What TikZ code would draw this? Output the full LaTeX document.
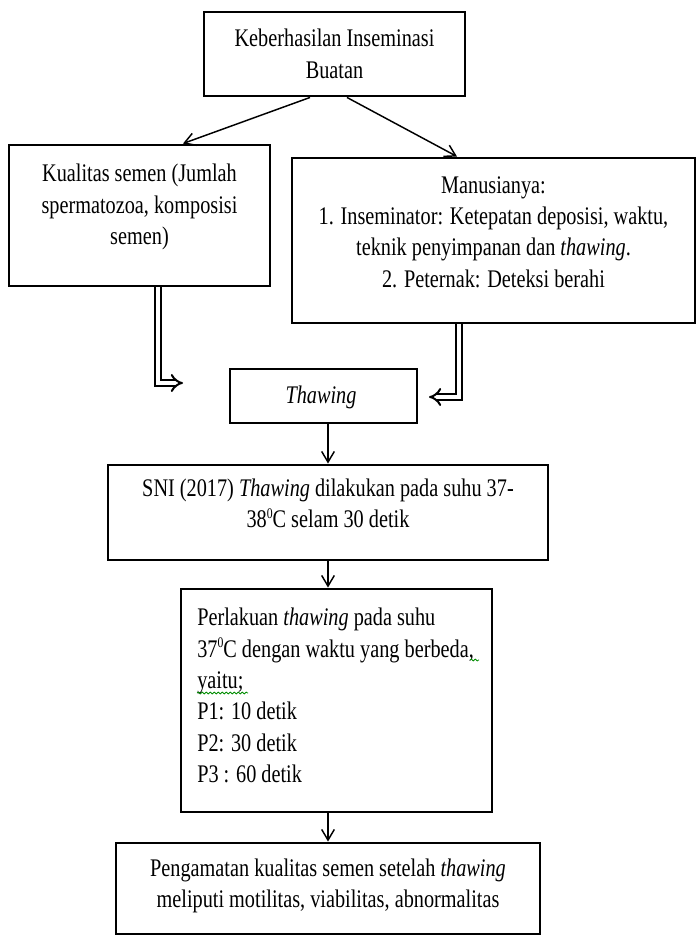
\documentclass[tikz,border=0pt]{standalone}
\usepackage{fontspec}
\setmainfont{Liberation Serif}[FakeStretch=0.8]
\usetikzlibrary{arrows.meta,calc,decorations.pathmorphing}
\newcommand{\supzero}{\raisebox{0.8ex}{\fontsize{11}{11}\selectfont 0}}
\begin{document}
\begin{tikzpicture}[x=0.75pt,y=-0.75pt,
  box/.style={draw, line width=2.2pt, rectangle, inner sep=0pt},
  txt/.style={inner sep=0pt, align=center, font=\fontsize{19}{23.5}\selectfont},
  arr/.style={line width=1.1pt, -{Straight Barb[length=8pt,width=9.5pt]}},
  dbl/.style={draw, line width=1.5pt, double=white, double distance=3pt, -{Implies}},
  squig/.style={draw=green!55!black, line width=0.6pt, decorate, decoration={snake, amplitude=0.7pt, segment length=3pt}}]
\useasboundingbox (0,0) rectangle (696,937);
% boxes
\node[box, minimum width=195.75pt, minimum height=63pt] (top) at (334.5,54) {};
\node[box, minimum width=195.75pt, minimum height=105.75pt] (kual) at (139.5,215.5) {};
\node[box, minimum width=302.25pt, minimum height=123.75pt] (man) at (493.5,240.5) {};
\node[box, line width=1.7pt, minimum width=140.25pt, minimum height=40.5pt] (thaw) at (323.5,396) {};
\node[box, minimum width=330pt, minimum height=71.25pt] (sni) at (328,512.5) {};
\node[box, minimum width=233.25pt, minimum height=167.25pt] (perl) at (336.5,700.5) {};
\node[box, minimum width=318pt, minimum height=68.25pt] (bot) at (328,888.5) {};
% texts
\node[txt] (topt) at (334.5,54) {Keberhasilan Inseminasi\\Buatan};
\node[txt] (kualt) at (139.5,207) {Kualitas semen (Jumlah\\spermatozoa, komposisi\\semen)};
\node[txt] (mant) at (493.5,232) {Manusianya:\\1. Inseminator: Ketepatan deposisi, waktu,\\teknik penyimpanan dan \textit{thawing}.\\2. Peternak: Deteksi berahi};
\node[txt] (thawt) at (321,397) {\textit{Thawing}};
\node[txt] (snit) at (328,503) {SNI (2017) \textit{Thawing} dilakukan pada suhu 37-\\38\supzero C selam 30 detik};
\node[txt, align=left, anchor=north west] (perlt) at (197,608) {Perlakuan \textit{thawing} pada suhu\\37\supzero C dengan waktu yang berbeda,\\yaitu;\\P1: 10 detik\\P2: 30 detik\\P3 : 60 detik};
\node[txt] (bott) at (328,886) {Pengamatan kualitas semen setelah \textit{thawing}\\meliputi motilitas, viabilitas, abnormalitas};
% spell-check squiggles
\coordinate (sq1a) at (197,693);
\coordinate (sq1b) at (248,693);
\coordinate (sq2a) at (470,660);
\coordinate (sq2b) at (479,660);
\draw[squig] (sq1a) -- (sq1b);
\draw[squig] (sq2a) -- (sq2b);
% connectors
\draw[arr] ($(top.south)+(-24.5,0)$) -- ($(kual.north)+(43.5,0)$);
\draw[arr] ($(top.south)+(12.5,0)$) -- ($(man.north)+(-36.5,0)$);
\coordinate (ltip) at (183,383);
\coordinate (rtip) at (429,397);
\draw[dbl] ($(kual.south)+(18,0)$) |- (ltip);
\draw[dbl] ($(man.south)+(-34.5,0)$) |- (rtip);
\draw[arr] (thaw.south -| sni.north) -- (sni.north);
\draw[arr] (sni.south) -- (perl.north -| sni.south);
\draw[arr] (perl.south -| bot.north) -- (bot.north);
\end{tikzpicture}
\end{document}
